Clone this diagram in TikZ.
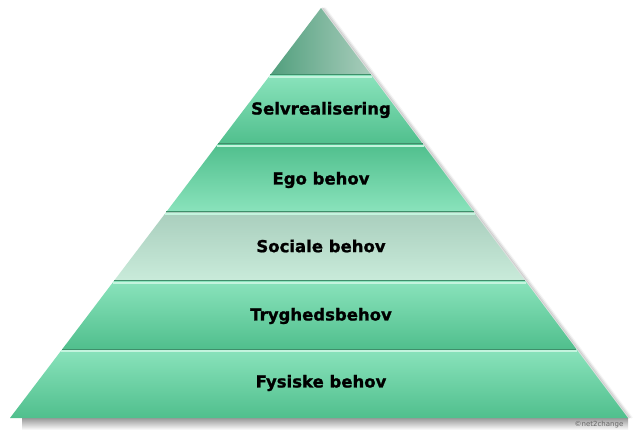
\documentclass[tikz,border=0pt]{standalone}
\usepackage{fontspec}
\setmainfont{DejaVu Sans}
\newfontfamily\lblfont[FakeBold=1.2]{DejaVu Sans Bold}
\usetikzlibrary{calc}
\begin{document}
\begin{tikzpicture}[x=1pt,y=-1pt,
  lbl/.style={font=\lblfont\fontsize{16.5}{18}\selectfont, text=black, inner sep=0pt},
  darksep/.style={draw=sepdark, line width=1pt},
  lightsep/.style={draw=seplight, line width=1.3pt}]
\definecolor{gtop}{HTML}{8AE3BC}
\definecolor{gbot}{HTML}{50BF8D}
\definecolor{tdark}{HTML}{519F7D}
\definecolor{tlight}{HTML}{A9CDBC}
\definecolor{stop}{HTML}{A9CEBD}
\definecolor{sbot}{HTML}{C9EBDA}
\definecolor{sepdark}{HTML}{3F8F6B}
\definecolor{seplight}{HTML}{C4F4DE}
\useasboundingbox (0,0) rectangle (637,430);
\fill[white] (0,0) rectangle (637,430);
% shadow
\shade[top color=black!40, bottom color=white] (22,418) rectangle (628,430);
\foreach \o/\op in {1/0.12,2.5/0.08,4/0.04}
  \draw[black, line width=2pt, opacity=\op] (321+\o,8) -- (628+\o,418);
% coordinates
\coordinate (A) at (321,8);
\coordinate (L1) at (270.2,75);  \coordinate (R1) at (371.2,75);
\coordinate (L2) at (217.8,144); \coordinate (R2) at (422.8,144);
\coordinate (L3) at (166.3,212); \coordinate (R3) at (473.8,212);
\coordinate (L4) at (113.9,281); \coordinate (R4) at (525.4,281);
\coordinate (L5) at (62.4,349);  \coordinate (R5) at (576.3,349);
\coordinate (L6) at (10,418);    \coordinate (R6) at (628,418);
% top triangle
\shade[left color=tdark, right color=tlight] (A) -- (R1) -- (L1) -- cycle;
% bands
\shade[top color=gtop, bottom color=gbot] (L1) -- (R1) -- (R2) -- (L2) -- cycle;
\shade[top color=gbot, bottom color=gtop] (L2) -- (R2) -- (R3) -- (L3) -- cycle;
\shade[top color=stop, bottom color=sbot] (L3) -- (R3) -- (R4) -- (L4) -- cycle;
\shade[top color=gtop, bottom color=gbot] (L4) -- (R4) -- (R5) -- (L5) -- cycle;
\shade[top color=gtop, bottom color=gbot] (L5) -- (R5) -- (R6) -- (L6) -- cycle;
% separators
\foreach \i in {1,...,5}{
  \draw[darksep] (L\i) -- (R\i);
  \draw[lightsep] ($(L\i)+(-1,2)$) -- ($(R\i)+(1,2)$);
}
% labels
\node[lbl] (n1) at (321,110) {Selvrealisering};
\node[lbl] (n2) at (321,180) {Ego behov};
\node[lbl] (n3) at (321,246) {Sociale behov};
\node[lbl] (n4) at (321,316) {Tryghedsbehov};
\node[lbl] (n5) at (321,383) {Fysiske behov};
\node[font=\fontsize{7}{8}\selectfont, text=black!60, inner sep=0pt] (cr) at (599,425) {©net2change};
\end{tikzpicture}
\end{document}
